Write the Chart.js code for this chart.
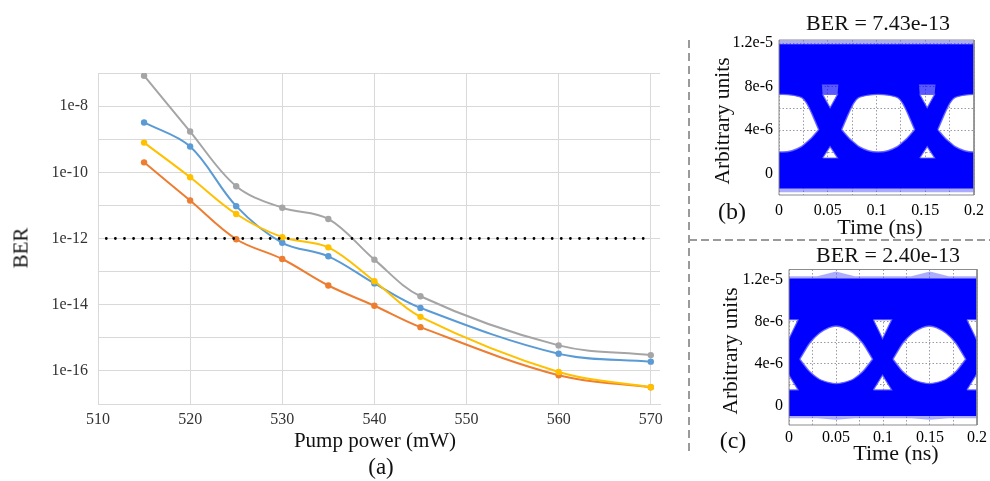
<!DOCTYPE html>
<html>
<head>
<meta charset="utf-8">
<script src="https://cdn.jsdelivr.net/npm/chart.js@4.4.1/dist/chart.umd.min.js"></script>
<style>
  html, body { margin: 0; padding: 0; background: #fff; }
  #page { position: relative; width: 990px; height: 481px; overflow: hidden;
          font-family: "Liberation Serif", "Times New Roman", serif; color: #111; }
  canvas { position: absolute; }
  .txt { position: absolute; white-space: nowrap; line-height: 1; transform: translate(-50%, -50%); }
  .rot { transform: translate(-50%, -50%) rotate(-90deg); }
  .vdash { position: absolute; left: 688px; top: 40px; width: 1.5px; height: 412px;
           background: repeating-linear-gradient(to bottom, #9a9a9a 0 8px, transparent 8px 13px); }
  .hdash { position: absolute; left: 689px; top: 239px; width: 301px; height: 1.5px;
           background: repeating-linear-gradient(to right, #9a9a9a 0 8px, transparent 8px 12px); }
</style>
</head>
<body>
<div id="page">
  <canvas id="berChart" width="680" height="481" style="left:0;top:0"></canvas>
  <canvas id="eyeB" width="300" height="240" style="left:690px;top:0"></canvas>
  <canvas id="eyeC" width="300" height="241" style="left:690px;top:240px"></canvas>

  <div class="vdash"></div>
  <div class="hdash"></div>

  <div class="txt rot" style="left:21px;top:248px;font-size:21px">BER</div>
  <div class="txt" style="left:375px;top:440px;font-size:21px">Pump power (mW)</div>
  <div class="txt" style="left:381px;top:466px;font-size:23px">(a)</div>

  <div class="txt" style="left:878px;top:23px;font-size:22px">BER = 7.43e-13</div>
  <div class="txt rot" style="left:723px;top:121px;font-size:21.5px">Arbitrary units</div>
  <div class="txt" style="left:732px;top:211px;font-size:24px">(b)</div>
  <div class="txt" style="left:880px;top:227px;font-size:22px">Time (ns)</div>

  <div class="txt" style="left:888px;top:255px;font-size:22px">BER = 2.40e-13</div>
  <div class="txt rot" style="left:731px;top:351px;font-size:21.5px">Arbitrary units</div>
  <div class="txt" style="left:733px;top:440px;font-size:24px">(c)</div>
  <div class="txt" style="left:896px;top:453px;font-size:22px">Time (ns)</div>
</div>

<script>
// ---- (a) BER vs pump power ----
const pumpPower = [515, 520, 525, 530, 535, 540, 545, 560, 570];
const berGray   = [8.3e-8, 1.7e-9, 3.8e-11, 8.5e-12, 3.9e-12, 2.3e-13, 1.8e-14, 5.9e-16, 3.0e-16];
const berBlue   = [3.2e-9, 6.0e-10, 9.5e-12, 7.43e-13, 2.9e-13, 4.4e-14, 8.0e-15, 3.3e-16, 1.9e-16];
const berYellow = [7.9e-10, 7.1e-11, 5.5e-12, 1.1e-12, 5.4e-13, 5.1e-14, 4.3e-15, 9.3e-17, 3.2e-17];
const berOrange = [2.0e-10, 1.4e-11, 9.5e-13, 2.40e-13, 3.8e-14, 9.3e-15, 2.1e-15, 7.4e-17, 3.2e-17];

const xTicks = [510, 520, 530, 540, 550, 560, 570];
const yTicks = [1e-17, 1e-16, 1e-15, 1e-14, 1e-13, 1e-12, 1e-11, 1e-10, 1e-9, 1e-8, 1e-7];
const yTickLabels = ['', '1e-16', '', '1e-14', '', '1e-12', '', '1e-10', '', '1e-8', ''];

const berLimit = 1e-12;
const berLimitSpan = [510.9, 569.3];

// ---- (b), (c) eye diagrams ----
const eyeXGrid = [0, 0.025, 0.05, 0.075, 0.1, 0.125, 0.15, 0.175, 0.2];
const eyeXLabels = ['0', '', '0.05', '', '0.1', '', '0.15', '', '0.2'];
const eyeYGrid = [0, 2e-6, 4e-6, 6e-6, 8e-6, 1e-5, 1.2e-5];
const eyeYLabels = ['0', '', '4e-6', '', '8e-6', '', '1.2e-5'];

// (b) eye openings, offsets from each eye centre (ns)
const bEyeCenters = [0.0033, 0.1017, 0.2003];
const bEyeOffset = [-0.0374, -0.030, -0.025, -0.020, -0.010, 0, 0.010, 0.020, 0.025, 0.030, 0.0374];
const bEyeUpper  = [4.06e-6, 5.6e-6, 6.5e-6, 7.0e-6, 7.23e-6, 7.3e-6, 7.23e-6, 7.0e-6, 6.5e-6, 5.6e-6, 4.06e-6];
const bEyeLower  = [4.06e-6, 3.3e-6, 2.9e-6, 2.52e-6, 2.12e-6, 2.0e-6, 2.12e-6, 2.52e-6, 2.9e-6, 3.3e-6, 4.06e-6];
const bTriCenters = [0.0524, 0.152];
const bTriDx = [-0.0076, 0.0076, 0];
const bTriTop = [7.3e-6, 7.3e-6, 6.07e-6];
const bTriBottom = [1.45e-6, 1.45e-6, 2.5e-6];
const bSpeckDx = [-0.0085, 0.0085, 0.0076, -0.0076];
const bSpeckY = [8.2e-6, 8.2e-6, 7.3e-6, 7.3e-6];
const bBandT = [-0.01, 0.21];
const bBandTop = [1.19e-5, 1.19e-5];
const bBandBottom = [-1.35e-6, -1.35e-6];
const bHaloT = [-0.01, 0.21];
const bHaloTop = [1.225e-5, 1.225e-5];
const bHaloBottom = [-1.7e-6, -1.7e-6];

// (c)
const cEyeCenters = [0.0502, 0.1493];
const cEyeOffset = [-0.0387, -0.0283, -0.0179, -0.0075, 0, 0.0075, 0.0179, 0.0283, 0.0387];
const cEyeUpper  = [4.43e-6, 5.96e-6, 6.91e-6, 7.45e-6, 7.61e-6, 7.45e-6, 6.91e-6, 5.96e-6, 4.43e-6];
const cEyeLower  = [4.43e-6, 3.25e-6, 2.52e-6, 2.2e-6, 2.1e-6, 2.2e-6, 2.52e-6, 3.25e-6, 4.43e-6];
const cTriCenters = [0.0, 0.0995, 0.199];
const cTriDx = [-0.0097, 0.0097, 0];
const cTriTop = [8.2e-6, 8.2e-6, 6.4e-6];
const cTriBottom = [1.5e-6, 1.5e-6, 2.9e-6];
const cBandT = [-0.01, 0.21];
const cBandTop = [1.215e-5, 1.215e-5];
const cBandBottom = [-1.0e-6, -1.0e-6];
const cHaloT = [-0.01, 0.03, 0.05, 0.07, 0.13, 0.15, 0.17, 0.21];
const cHaloTop = [1.235e-5, 1.235e-5, 1.28e-5, 1.235e-5, 1.235e-5, 1.28e-5, 1.235e-5, 1.235e-5];
const cHaloBottom = [-1.2e-6, -1.2e-6, -1.35e-6, -1.2e-6, -1.2e-6, -1.35e-6, -1.2e-6, -1.2e-6];

const serif = '"Liberation Serif", "Times New Roman", serif';
Chart.defaults.animation = false;
Chart.defaults.font.family = serif;

function berSeries(label, values, color) {
  return {
    label: label,
    data: pumpPower.map((x, i) => ({ x: x, y: values[i] })),
    borderColor: color,
    backgroundColor: color,
    borderWidth: 2,
    pointRadius: 3.2,
    pointBorderWidth: 0,
    tension: 0.35
  };
}

new Chart(document.getElementById('berChart'), {
  type: 'line',
  data: {
    datasets: [
      {
        label: 'limit',
        data: berLimitSpan.map(x => ({ x: x, y: berLimit })),
        borderColor: '#000',
        borderWidth: 2.8,
        borderDash: [0, 9.1],
        borderCapStyle: 'round',
        pointRadius: 0
      },
      berSeries('yellow', berYellow, '#ffc000'),
      berSeries('orange', berOrange, '#ed7d31'),
      berSeries('blue', berBlue, '#5b9bd5'),
      berSeries('gray', berGray, '#a5a5a5')
    ]
  },
  options: {
    responsive: false,
    layout: { padding: { left: 0, top: 73, right: 20, bottom: 0 } },
    plugins: { legend: { display: false }, tooltip: { enabled: false } },
    scales: {
      x: {
        type: 'linear', min: 510, max: 571,
        afterBuildTicks: s => { s.ticks = xTicks.map(v => ({ value: v })); },
        afterFit: s => { s.height = 77; },
        grid: { color: '#d9d9d9', drawTicks: false },
        border: { color: '#d9d9d9' },
        ticks: { padding: 6, color: '#333', font: { size: 16 }, autoSkip: false, maxRotation: 0 }
      },
      y: {
        type: 'logarithmic', min: 1e-17, max: 1e-7,
        afterBuildTicks: s => { s.ticks = yTicks.map(v => ({ value: v })); },
        afterFit: s => { s.width = 98; },
        grid: { color: '#d9d9d9', drawTicks: false },
        border: { color: '#d9d9d9' },
        ticks: { padding: 10, color: '#333', font: { size: 16 }, autoSkip: false,
                 callback: (v, i) => yTickLabels[i] }
      }
    }
  }
});

// eye diagram helpers
function contour(center, offsets, upper, lower) {
  const pts = offsets.map((d, i) => ({ x: center + d, y: upper[i] }));
  for (let i = offsets.length - 1; i >= 0; i--) pts.push({ x: center + offsets[i], y: lower[i] });
  return pts;
}
function polygon(center, dx, ys) {
  return dx.map((d, i) => ({ x: center + d, y: ys[i] }));
}
function area(data, color, order, role, tension) {
  return { data: data, fill: 'shape', backgroundColor: color, borderWidth: 0,
           pointRadius: 0, order: order, role: role, tension: tension || 0 };
}
function outline(data, color, width, tension) {
  return { data: data.concat([data[0]]), fill: false, borderColor: color, borderWidth: width,
           pointRadius: 0, order: 1, tension: tension || 0 };
}

// band is painted, openings are cut out, grid goes underneath
const eyeLayers = {
  id: 'eyeLayers',
  afterDatasetDraw(chart, args) {
    const metas = chart.getSortedVisibleDatasetMetas();
    const next = metas[metas.indexOf(args.meta) - 1];
    const hole = next && chart.data.datasets[next.index].role === 'hole';
    chart.ctx.globalCompositeOperation = hole ? 'destination-out' : 'source-over';
  },
  afterDatasetsDraw(chart) { chart.ctx.globalCompositeOperation = 'destination-over'; },
  afterDraw(chart) { chart.ctx.globalCompositeOperation = 'source-over'; }
};

function eyeChart(id, e) {
  const ds = [];
  ds.push(area(contour(0, e.haloT, e.haloTop, e.haloBottom), 'rgba(70,70,255,0.45)', 50));
  ds.push(area(contour(0, e.bandT, e.bandTop, e.bandBottom), '#0000ff', 40));
  const eyes = e.eyeCenters.map(c => contour(c, e.eyeOffset, e.eyeUpper, e.eyeLower));
  const tris = [];
  e.triCenters.forEach(c => {
    tris.push(polygon(c, e.triDx, e.triTop));
    tris.push(polygon(c, e.triDx, e.triBottom));
  });
  eyes.forEach(h => ds.push(area(h, '#000', 30, 'hole', 0.25)));
  tris.forEach(h => ds.push(area(h, '#000', 30, 'hole')));
  (e.speck || []).forEach(s => ds.push(area(s, 'rgba(0,0,0,0.35)', 30, 'hole')));
  eyes.forEach(h => ds.push(outline(h, 'rgba(95,95,255,0.9)', 1.4, 0.25)));
  tris.forEach(h => ds.push(outline(h, 'rgba(95,95,255,0.9)', 1.2)));
  // plot frame
  ds.push({ data: [{ x: 0, y: e.yMax }, { x: 0.2, y: e.yMax }, { x: 0.2, y: e.yMin },
                   { x: 0, y: e.yMin }, { x: 0, y: e.yMax }],
            fill: false, borderColor: '#8c8c8c', borderWidth: 1, pointRadius: 0, order: 0, clip: 2 });

  new Chart(document.getElementById(id), {
    type: 'line',
    data: { datasets: ds },
    options: {
      responsive: false,
      layout: { padding: { left: 0, top: e.padTop, right: e.padRight, bottom: 0 } },
      plugins: { legend: { display: false }, tooltip: { enabled: false } },
      scales: {
        x: {
          type: 'linear', min: 0, max: 0.2,
          afterBuildTicks: s => { s.ticks = eyeXGrid.map(v => ({ value: v })); },
          afterFit: s => { s.height = e.xAxisHeight; },
          grid: { color: '#9a9aa6', drawTicks: false, z: 1 },
          border: { display: false, dash: [1.5, 2] },
          ticks: { padding: e.xPad, color: '#000', font: { size: 16 }, autoSkip: false,
                   maxRotation: 0, callback: (v, i) => eyeXLabels[i] }
        },
        y: {
          type: 'linear', min: e.yMin, max: e.yMax,
          afterBuildTicks: s => { s.ticks = eyeYGrid.map(v => ({ value: v })); },
          afterFit: s => { s.width = e.yAxisWidth; },
          grid: { color: '#9a9aa6', drawTicks: false, z: 1 },
          border: { display: false, dash: [1.5, 2] },
          ticks: { padding: 6, color: '#000', font: { size: 16 }, autoSkip: false,
                   callback: (v, i) => eyeYLabels[i] }
        }
      }
    },
    plugins: [eyeLayers]
  });
}

eyeChart('eyeB', {
  yMin: -1.95e-6, yMax: 1.23e-5, padTop: 40, padRight: 13, yAxisWidth: 89, xAxisHeight: 45, xPad: 6,
  eyeCenters: bEyeCenters, eyeOffset: bEyeOffset, eyeUpper: bEyeUpper, eyeLower: bEyeLower,
  triCenters: bTriCenters, triDx: bTriDx, triTop: bTriTop, triBottom: bTriBottom,
  speck: bTriCenters.map(c => polygon(c, bSpeckDx, bSpeckY)),
  bandT: bBandT, bandTop: bBandTop, bandBottom: bBandBottom,
  haloT: bHaloT, haloTop: bHaloTop, haloBottom: bHaloBottom
});

eyeChart('eyeC', {
  yMin: -1.85e-6, yMax: 1.3e-5, padTop: 29.5, padRight: 9, yAxisWidth: 99, xAxisHeight: 56, xPad: 3,
  eyeCenters: cEyeCenters, eyeOffset: cEyeOffset, eyeUpper: cEyeUpper, eyeLower: cEyeLower,
  triCenters: cTriCenters, triDx: cTriDx, triTop: cTriTop, triBottom: cTriBottom,
  bandT: cBandT, bandTop: cBandTop, bandBottom: cBandBottom,
  haloT: cHaloT, haloTop: cHaloTop, haloBottom: cHaloBottom
});
</script>
</body>
</html>
